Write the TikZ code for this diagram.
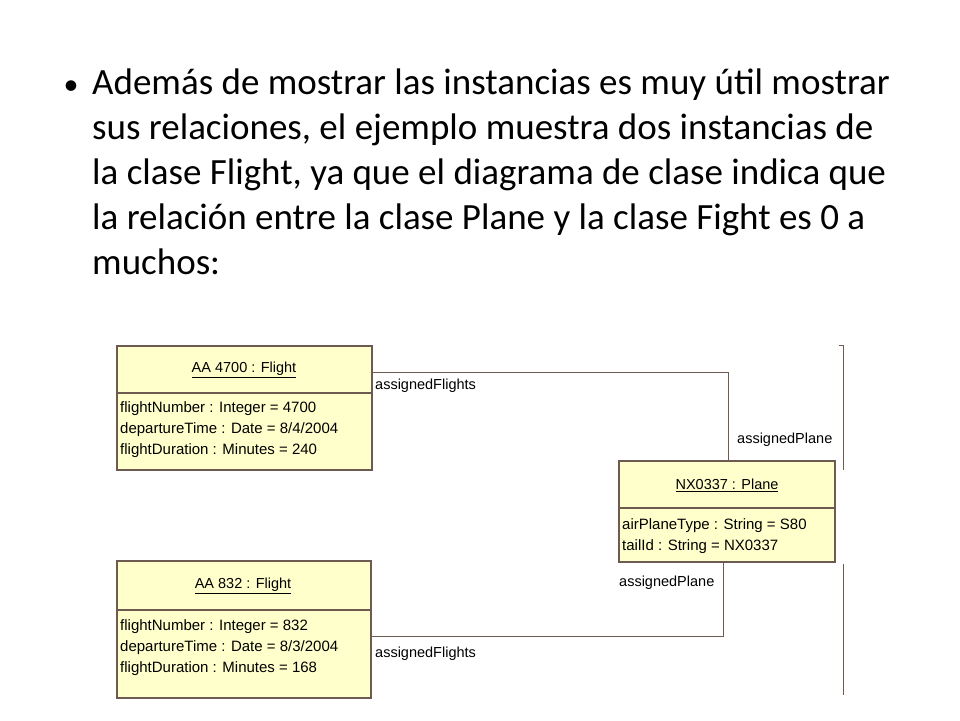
\documentclass[tikz,border=0pt]{standalone}
\usepackage{fontspec}
\setmainfont{Carlito}
\newfontfamily\umlfont{Liberation Sans}
\usetikzlibrary{positioning}
\definecolor{objfill}{HTML}{FFFFCC}
\definecolor{objline}{HTML}{6E5A50}
\begin{document}
\begin{tikzpicture}
    [x=1pt,y=-1pt,
     obj/.style={draw=objline,fill=objfill,line width=1.2pt},
     link/.style={draw=objline,line width=1pt},
     role/.style={font=\umlfont\fontsize{14.5}{17}\selectfont,anchor=west,inner sep=0pt},
     attr/.style={font=\umlfont\fontsize{15}{21}\selectfont,align=left,anchor=north west,inner sep=0pt},
     head/.style={font=\umlfont\fontsize{14.5}{17}\selectfont,inner sep=0pt}]

    \useasboundingbox (0,0) rectangle (960,720);

    % bullet text
    \node[anchor=west,font=\fontsize{30}{30}\selectfont] (bullet) at (60,88) {\textbullet};
    \node[anchor=north west,align=left,inner sep=0pt,font=\fontsize{37}{45}\selectfont] (body) at (92,69)
        {Además de mostrar las instancias es muy útil mostrar\\
         sus relaciones, el ejemplo muestra dos instancias de\\
         la clase Flight, ya que el diagrama de clase indica que\\
         la relación entre la clase Plane y la clase Fight es 0 a\\
         muchos:};

    % objects
    \draw[obj] (117,346) rectangle (372,470);
    \draw[objline,line width=1.2pt] (117,393) -- (372,393);
    \node[head] (f1) at (244,370) {\underline{AA 4700 : Flight}};
    \node[attr] (f1a) at (120,401) {flightNumber : Integer = 4700\\departureTime : Date = 8/4/2004\\flightDuration : Minutes = 240};

    \draw[obj] (619,461) rectangle (835,562);
    \draw[objline,line width=1.2pt] (619,508) -- (835,508);
    \node[head] (pl) at (727,485) {\underline{NX0337 : Plane}};
    \node[attr] (pla) at (622,518) {airPlaneType : String = S80\\tailId : String = NX0337};

    \draw[obj] (117,561) rectangle (371,698);
    \draw[objline,line width=1.2pt] (117,610) -- (371,610);
    \node[head] (f2) at (243,586) {\underline{AA 832 : Flight}};
    \node[attr] (f2a) at (120,619) {flightNumber : Integer = 832\\departureTime : Date = 8/3/2004\\flightDuration : Minutes = 168};

    % links
    \coordinate (c1) at (728,372);
    \coordinate (c2) at (723,636);
    \draw[link] (372,372) -- (c1) -- (728,461);
    \draw[link] (371,636) -- (c2) -- (723,562);

    \node[role] (r1) at (375,386) {assignedFlights};
    \node[role] (r2) at (737,440) {assignedPlane};
    \node[role] (r3) at (619,583) {assignedPlane};
    \node[role] (r4) at (375,654) {assignedFlights};

    % cut-off edges on the right
    \draw[objline,line width=1pt] (843,345) -- (843,470);
    \draw[objline,line width=1pt] (839,345) -- (843,345);
    \draw[objline,line width=1pt] (843,564) -- (843,695);

\end{tikzpicture}
\end{document}
